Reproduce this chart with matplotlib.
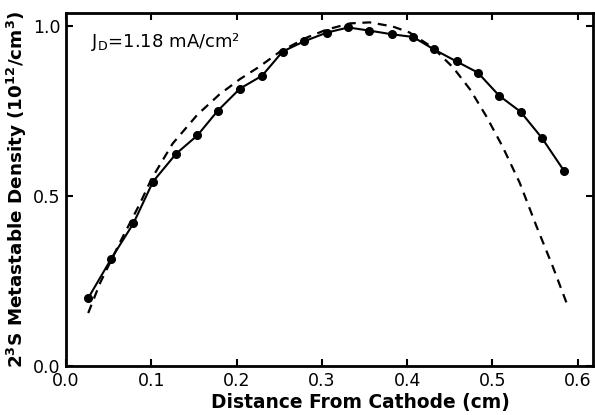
import matplotlib
matplotlib.use("Agg")
import matplotlib.pyplot as plt


# measured points (solid line with dots)
meas_x = [0.026, 0.053, 0.079, 0.102, 0.129, 0.154, 0.178, 0.204, 0.230,
          0.254, 0.279, 0.306, 0.331, 0.355, 0.382, 0.407, 0.431, 0.458,
          0.483, 0.508, 0.533, 0.558, 0.584]
meas_y = [0.20, 0.316, 0.42, 0.543, 0.625, 0.679, 0.752, 0.817, 0.855,
          0.926, 0.956, 0.982, 0.997, 0.988, 0.977, 0.969, 0.933, 0.897,
          0.864, 0.796, 0.749, 0.672, 0.575]

# model curve (dashed)
calc_x = [0.026, 0.040, 0.063, 0.087, 0.100, 0.125, 0.154, 0.180, 0.204,
          0.227, 0.251, 0.283, 0.306, 0.333, 0.356, 0.383, 0.403, 0.430,
          0.454, 0.474, 0.493, 0.512, 0.532, 0.552, 0.571, 0.587]
calc_y = [0.156, 0.245, 0.363, 0.48, 0.55, 0.655, 0.74, 0.80, 0.845,
          0.882, 0.926, 0.968, 0.991, 1.009, 1.012, 1.0, 0.982, 0.938,
          0.879, 0.814, 0.735, 0.646, 0.54, 0.41, 0.292, 0.186]

x_ticks = [0.0, 0.1, 0.2, 0.3, 0.4, 0.5, 0.6]
y_ticks = [0.0, 0.5, 1.0]

plt.rcParams["font.family"] = ["DejaVu Sans"]
plt.rcParams["mathtext.fontset"] = "dejavusans"

fig = plt.figure(figsize=(5.95, 4.15), dpi=100)
ax = fig.add_axes([0.111, 0.118, 0.8856, 0.851])

ax.plot(calc_x, calc_y, color="black", linestyle=(0, (4, 3)), linewidth=1.6)
ax.plot(meas_x, meas_y, color="black", linewidth=1.5,
        marker="o", markersize=5.5)

ax.set_xlim(0, 0.618)
ax.set_ylim(0, 1.04)

ax.set_xticks(x_ticks)
ax.set_xticklabels([f"{v:.1f}" for v in x_ticks])
ax.set_yticks(y_ticks)
ax.set_yticklabels([f"{v:.1f}" for v in y_ticks])

ax.tick_params(direction="in", length=5, width=1.5, labelsize=12.5,
               top=True, right=True, pad=4)
for sp in ax.spines.values():
    sp.set_linewidth(2)

ax.set_xlabel("Distance From Cathode (cm)", fontsize=13.4, fontweight="bold")
ax.xaxis.set_label_coords(0.558, -0.075)
ax.set_ylabel("2$^\\mathbf{3}$S Metastable Density (10$^\\mathbf{12}$/cm$^\\mathbf{3}$)",
              fontsize=13.2, fontweight="bold", labelpad=3)

ax.text(0.029, 0.955, "J$_\\mathregular{D}$=1.18 mA/cm²", fontsize=13,
        va="center", ha="left")

fig.savefig("out.png", dpi=100)
